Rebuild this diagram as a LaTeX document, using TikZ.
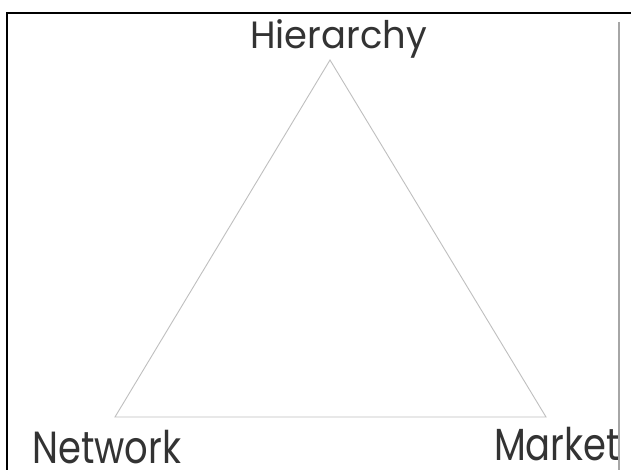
\documentclass[tikz,border=0pt]{standalone}
\usepackage{fontspec}
\usepackage{graphicx}
\setmainfont{Poppins}
\newcommand{\narrowtext}[1]{\scalebox{0.82}[1]{#1}}
\begin{document}
\begin{tikzpicture}[x=1pt,y=1pt,
  tri/.style={draw=black!25,line width=0.9pt,line join=miter},
  lbl/.style={text=black!80,inner sep=0pt,font=\fontsize{38}{40}\selectfont},
  biglbl/.style={text=black!80,inner sep=0pt,font=\fontsize{45}{47}\selectfont}]
\useasboundingbox (0,0) rectangle (631,470);
\fill[white] (0,0) rectangle (631,470);
% frame
\coordinate (tl) at (7,457);
\coordinate (tr) at (631,457);
\coordinate (bl) at (7,0);
\draw[black,line width=2pt] (bl) -- (tl) -- (tr);
\coordinate (rt) at (618.5,448);
\coordinate (rb) at (618.5,0);
\draw[black!35,line width=2pt] (rt) -- (rb);
% triangle
\coordinate (H) at (330,410);
\coordinate (N) at (115,53);
\coordinate (M) at (546,53);
\draw[tri] (H) -- (N) -- (M) -- cycle;
% labels
\node[lbl,anchor=base west] (lh) at (250,421) {\scalebox{0.97}[1]{Hierarchy}};
\begin{scope}
\clip (0,0) rectangle (617,470);
\node[biglbl,anchor=base west] (ln) at (32,6) {\narrowtext{Network}};
\node[biglbl,anchor=base west] (lm) at (494,9) {\narrowtext{Market}};
\end{scope}
\end{tikzpicture}
\end{document}
